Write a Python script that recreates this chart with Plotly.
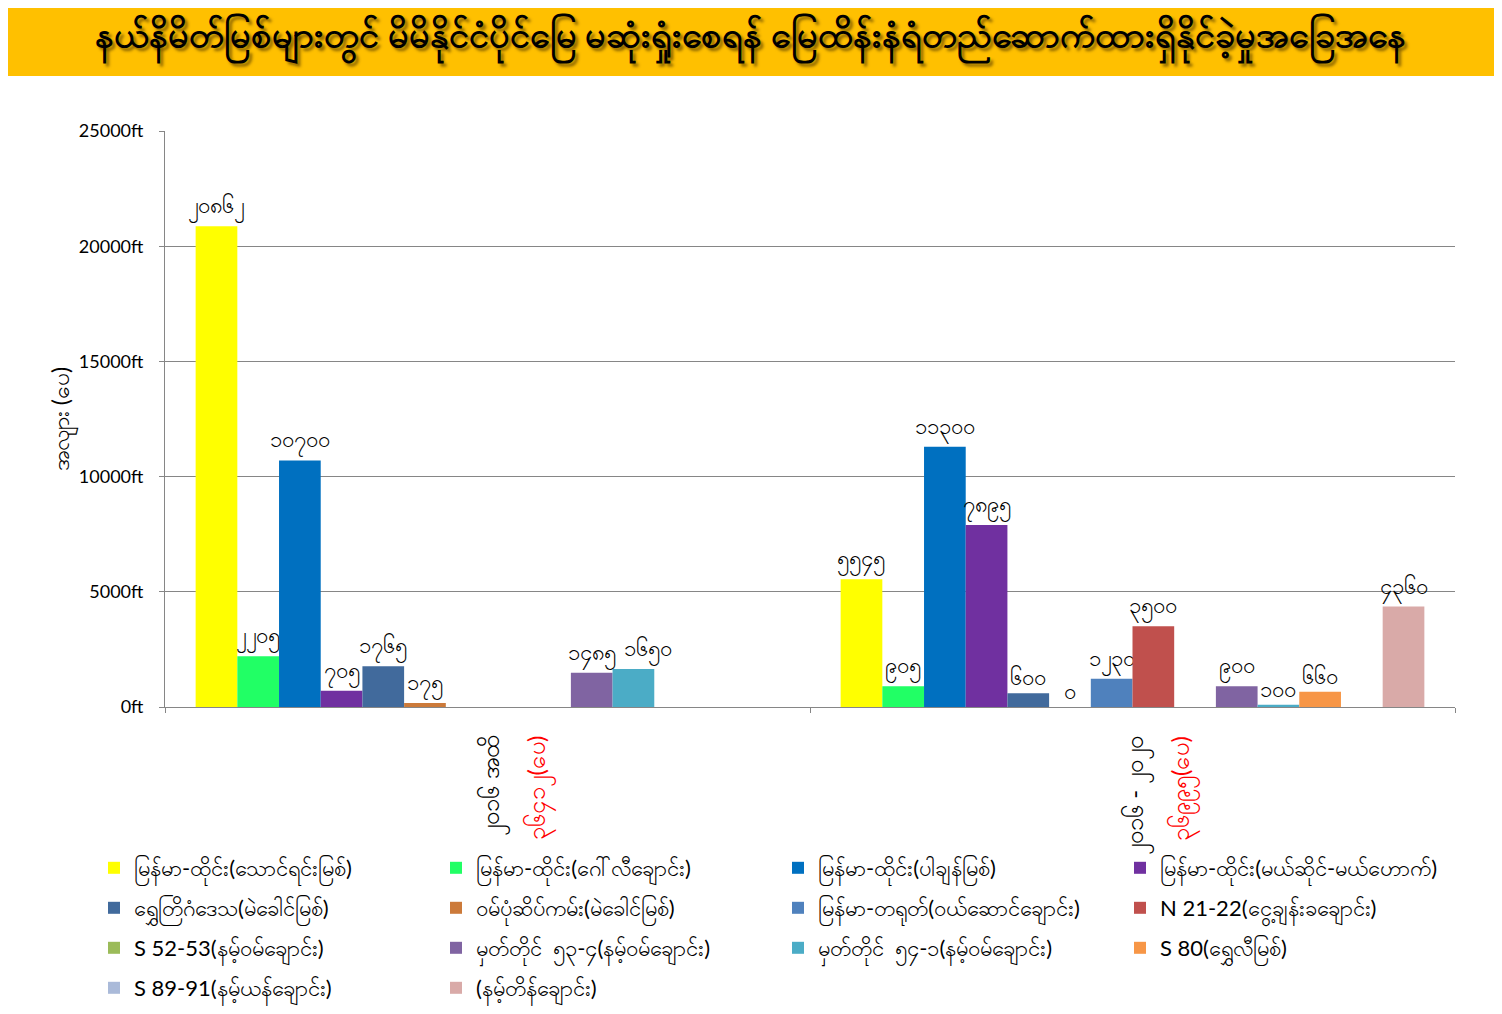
import plotly.graph_objects as go

# two survey periods on the x axis
categories = ["to2016", "2016-2020"]
tick_line1 = ["၂၀၁၆ အထိ", "၂၀၁၆ - ၂၀၂၀"]
tick_line2 = ["၃၆၄၁၂(ပေ)", "၃၆၉၉၅(ပေ)"]

series_names = [
    "မြန်မာ-ထိုင်း(သောင်ရင်းမြစ်)",
    "မြန်မာ-ထိုင်း(ဂေါ်လီချောင်း)",
    "မြန်မာ-ထိုင်း(ပါချန်မြစ်)",
    "မြန်မာ-ထိုင်း(မယ်ဆိုင်-မယ်ဟောက်)",
    "ရွှေတြိဂံဒေသ(မဲခေါင်မြစ်)",
    "ဝမ်ပုံဆိပ်ကမ်း(မဲခေါင်မြစ်)",
    "မြန်မာ-တရုတ်(ဝယ်ဆောင်ချောင်း)",
    "N 21-22(ငွေ့ချန်းခချောင်း)",
    "S 52-53(နမ့်ဝမ်ချောင်း)",
    "မှတ်တိုင်  ၅၃-၄(နမ့်ဝမ်ချောင်း)",
    "မှတ်တိုင်  ၅၄-၁(နမ့်ဝမ်ချောင်း)",
    "S 80(ရွှေလီမြစ်)",
    "S 89-91(နမ့်ယန်ချောင်း)",
    "(နမ့်တိန်ချောင်း)",
]
colors = ["#FFFF00", "#21FF65", "#0070C0", "#7030A0", "#416A9C", "#CC7A3A", "#4F81BD",
          "#C0504D", "#9BBB59", "#8064A2", "#4BACC6", "#F79646", "#AABAD9", "#D9AAA8"]

# length in feet, per series, for each period (None = no bar)
len_to2016 = [20862, 2205, 10700, 705, 1765, 175, None, None, None, 1485, 1650, None, None, None]
len_2016_2020 = [5545, 905, 11300, 7895, 600, 0, 1230, 3500, None, 900, 100, 660, None, 4360]

MM_DIGITS = str.maketrans("0123456789", "၀၁၂၃၄၅၆၇၈၉")


def mm(v):
    return "" if v is None else str(v).translate(MM_DIGITS)


font_family = "Lato, 'Noto Sans', sans-serif"
legend_ids = ["legend", "legend2", "legend3", "legend4"]

fig = go.Figure()
for i, name in enumerate(series_names):
    vals = [len_to2016[i], len_2016_2020[i]]
    labels = [mm(v) for v in vals]
    if i == 10 and labels[0]:
        # nudge this label right so it doesn't sit on top of its neighbour
        labels[0] = "\u00a0" * 5 + labels[0]
    fig.add_trace(go.Bar(
        x=categories, y=vals, name=name,
        marker_color=colors[i], marker_line_width=0,
        text=labels, textposition="outside",
        constraintext="none", cliponaxis=False,
        textfont=dict(size=22, color="black"),
        legend=legend_ids[i // 4],
    ))

# page has an 8px body margin, so the figure is laid out 8px in
W, H = 1494, 1006
L, R, T, B = 157, 47, 123, 307
pw, ph = W - L - R, H - T - B

legends = {}
for k, lid in enumerate(legend_ids):
    yc = 860 + 40 * k
    legends[lid] = dict(orientation="h", x=(86 - L) / pw, y=-(yc - (H - B)) / ph,
                        xanchor="left", yanchor="middle", entrywidth=297,
                        font=dict(size=22), traceorder="normal",
                        bgcolor="rgba(0,0,0,0)")

annotations = [dict(text="<b>နယ်နိမိတ်မြစ်များတွင် မိမိနိုင်ငံပိုင်မြေ မဆုံးရှုံးစေရန် မြေထိန်းနံရံတည်ဆောက်ထားရှိနိုင်ခဲ့မှုအခြေအနေ</b>",
                    xref="paper", yref="paper", x=(742 - L) / pw, y=1 + (T - 30) / ph,
                    xanchor="center", yanchor="middle", showarrow=False,
                    font=dict(size=36, color="black", shadow="3px 3px 3px rgba(60,40,0,0.6)"))]

# category labels: two rotated lines, black period + red total
for cat, l1, l2 in zip(categories, tick_line1, tick_line2):
    for txt, col, dx in [(l1, "black", 4), (l2, "red", 50)]:
        annotations.append(dict(text=txt, xref="x", yref="paper", x=cat, y=-27 / ph,
                                xanchor="center", yanchor="top", xshift=dx, textangle=-90,
                                showarrow=False, font=dict(size=24, color=col)))

fig.update_layout(
    width=W, height=H,
    margin=dict(l=L, r=R, t=T, b=B, autoexpand=False),
    paper_bgcolor="white", plot_bgcolor="white",
    font=dict(family=font_family, size=16, color="black"),
    barmode="group", bargap=0.095, bargroupgap=0,
    showlegend=True,
    shapes=[dict(type="rect", xref="paper", yref="paper",
                 x0=-L / pw, x1=(1492 - L) / pw, y0=1 + (T - 68) / ph, y1=1 + T / ph,
                 fillcolor="#FFC000", line_width=0, layer="below")],
    annotations=annotations,
    **legends,
)

fig.update_yaxes(
    range=[0, 25000], dtick=5000, tickformat="d", ticksuffix="ft",
    showline=True, linecolor="#868686", linewidth=1,
    ticks="outside", ticklen=5, tickcolor="#868686",
    showgrid=True, gridcolor="#868686", gridwidth=1,
    zeroline=False, tickfont=dict(size=18), ticklabelstandoff=12,
    title=dict(text="အလျား (ပေ)", font=dict(size=23), standoff=0),
)
fig.update_xaxes(
    showticklabels=False,
    showline=True, linecolor="#868686", linewidth=1,
    ticks="outside", ticklen=5, tickcolor="#868686", tickson="boundaries",
)

fig.write_html("out.html")
